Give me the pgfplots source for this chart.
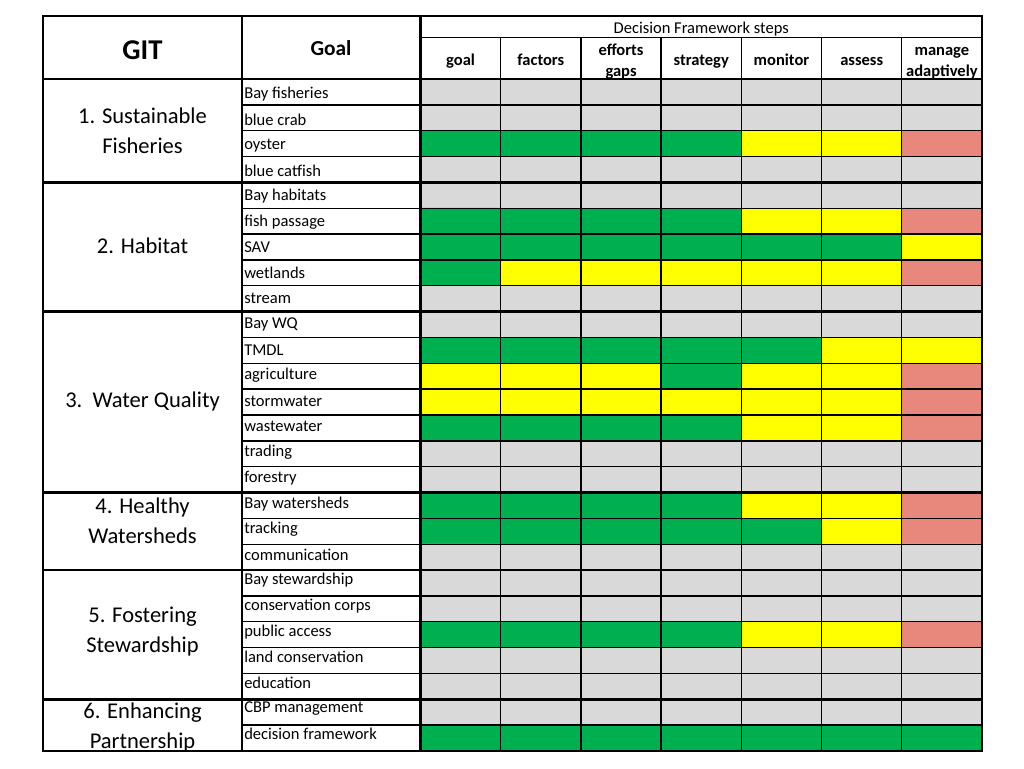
\documentclass[border=0pt]{standalone}
\usepackage{fontspec}
\setmainfont{Carlito}
\usepackage{pgfplots}
\pgfplotsset{compat=1.18}

% status codes: 0 = grey, 1 = green, 2 = yellow, 3 = red
\begin{document}
\begin{tikzpicture}
\begin{axis}[
  name=ax,
  scale only axis,
  width=421.1pt, height=504pt,
  xmin=0.5, xmax=7.5, ymin=-26.5, ymax=-0.5,
  axis line style={black, line width=1.9pt},
  tick style={draw=none},
  xtick={1,...,7},
  xticklabels={{\strut goal}, {\strut factors}, {\strut efforts\\\strut gaps}, {\strut strategy}, {\strut monitor}, {\strut assess}, {\strut manage\\\strut adaptively}},
  xticklabel pos=upper,
  xticklabel style={font=\bfseries\fontsize{12.4}{15.8}\selectfont, align=center, anchor=center, yshift=13pt},
  ytick={-1.080,-2.071,-3.061,-4.052,-5.042,-6.033,-7.023,-8.014,-9.004,-9.995,-10.985,-11.976,-12.966,-13.957,-14.947,-15.938,-16.928,-17.919,-18.909,-19.900,-20.890,-21.881,-22.871,-23.862,-24.852,-25.843},
  yticklabels={Bay fisheries, blue crab, oyster, blue catfish, Bay habitats, fish passage, SAV, wetlands, stream, Bay WQ, TMDL, agriculture, stormwater, wastewater, trading, forestry, Bay watersheds, tracking, communication, Bay stewardship, conservation corps, public access, land conservation, education, CBP management, decision framework},
  yticklabel style={font=\fontsize{12.4}{14}\selectfont, anchor=west, xshift=-133.9pt, inner xsep=1.5pt},
  minor xtick={1.5,2.5,...,6.5},
  minor ytick={-25.5,-24.5,...,-1.5},
  grid=minor,
  minor grid style={black, line width=1pt},
  axis on top,
  colormap={status}{rgb255=(217,217,217) rgb255=(0,176,80) rgb255=(255,255,0) rgb255=(232,135,124)},
  colormap access=direct,
  clip=false,
]
\addplot[matrix plot*, mesh/cols=7, point meta=explicit] coordinates {
(1,-1) [0] (2,-1) [0] (3,-1) [0] (4,-1) [0] (5,-1) [0] (6,-1) [0] (7,-1) [0]

(1,-2) [0] (2,-2) [0] (3,-2) [0] (4,-2) [0] (5,-2) [0] (6,-2) [0] (7,-2) [0]

(1,-3) [1] (2,-3) [1] (3,-3) [1] (4,-3) [1] (5,-3) [2] (6,-3) [2] (7,-3) [3]

(1,-4) [0] (2,-4) [0] (3,-4) [0] (4,-4) [0] (5,-4) [0] (6,-4) [0] (7,-4) [0]

(1,-5) [0] (2,-5) [0] (3,-5) [0] (4,-5) [0] (5,-5) [0] (6,-5) [0] (7,-5) [0]

(1,-6) [1] (2,-6) [1] (3,-6) [1] (4,-6) [1] (5,-6) [2] (6,-6) [2] (7,-6) [3]

(1,-7) [1] (2,-7) [1] (3,-7) [1] (4,-7) [1] (5,-7) [1] (6,-7) [1] (7,-7) [2]

(1,-8) [1] (2,-8) [2] (3,-8) [2] (4,-8) [2] (5,-8) [2] (6,-8) [2] (7,-8) [3]

(1,-9) [0] (2,-9) [0] (3,-9) [0] (4,-9) [0] (5,-9) [0] (6,-9) [0] (7,-9) [0]

(1,-10) [0] (2,-10) [0] (3,-10) [0] (4,-10) [0] (5,-10) [0] (6,-10) [0] (7,-10) [0]

(1,-11) [1] (2,-11) [1] (3,-11) [1] (4,-11) [1] (5,-11) [1] (6,-11) [2] (7,-11) [2]

(1,-12) [2] (2,-12) [2] (3,-12) [2] (4,-12) [1] (5,-12) [2] (6,-12) [2] (7,-12) [3]

(1,-13) [2] (2,-13) [2] (3,-13) [2] (4,-13) [2] (5,-13) [2] (6,-13) [2] (7,-13) [3]

(1,-14) [1] (2,-14) [1] (3,-14) [1] (4,-14) [1] (5,-14) [2] (6,-14) [2] (7,-14) [3]

(1,-15) [0] (2,-15) [0] (3,-15) [0] (4,-15) [0] (5,-15) [0] (6,-15) [0] (7,-15) [0]

(1,-16) [0] (2,-16) [0] (3,-16) [0] (4,-16) [0] (5,-16) [0] (6,-16) [0] (7,-16) [0]

(1,-17) [1] (2,-17) [1] (3,-17) [1] (4,-17) [1] (5,-17) [2] (6,-17) [2] (7,-17) [3]

(1,-18) [1] (2,-18) [1] (3,-18) [1] (4,-18) [1] (5,-18) [1] (6,-18) [2] (7,-18) [3]

(1,-19) [0] (2,-19) [0] (3,-19) [0] (4,-19) [0] (5,-19) [0] (6,-19) [0] (7,-19) [0]

(1,-20) [0] (2,-20) [0] (3,-20) [0] (4,-20) [0] (5,-20) [0] (6,-20) [0] (7,-20) [0]

(1,-21) [0] (2,-21) [0] (3,-21) [0] (4,-21) [0] (5,-21) [0] (6,-21) [0] (7,-21) [0]

(1,-22) [1] (2,-22) [1] (3,-22) [1] (4,-22) [1] (5,-22) [2] (6,-22) [2] (7,-22) [3]

(1,-23) [0] (2,-23) [0] (3,-23) [0] (4,-23) [0] (5,-23) [0] (6,-23) [0] (7,-23) [0]

(1,-24) [0] (2,-24) [0] (3,-24) [0] (4,-24) [0] (5,-24) [0] (6,-24) [0] (7,-24) [0]

(1,-25) [0] (2,-25) [0] (3,-25) [0] (4,-25) [0] (5,-25) [0] (6,-25) [0] (7,-25) [0]

(1,-26) [1] (2,-26) [1] (3,-26) [1] (4,-26) [1] (5,-26) [1] (6,-26) [1] (7,-26) [1]
};

% table frame
\draw[line width=1.9pt] (axis cs:-4.206,1.9375) rectangle (axis cs:7.5,-26.5);
\draw[line width=1.9pt] (axis cs:-1.725,1.9375) -- (axis cs:-1.725,-26.5);
\draw[line width=1.9pt] (axis cs:0.5,1.9375) -- (axis cs:0.5,-26.5);
\draw[line width=1.9pt] (axis cs:-4.206,-0.5) -- (axis cs:7.5,-0.5);
\draw[line width=1pt] (axis cs:0.5,1.1057) -- (axis cs:7.5,1.1057);
\pgfplotsinvokeforeach{1.5,2.5,...,6.5}{
  \draw[line width=1pt] (axis cs:#1,1.1057) -- (axis cs:#1,-0.5);
}
\pgfplotsinvokeforeach{-1.5,-2.5,...,-25.5}{
  \draw[line width=1pt] (axis cs:-1.725,#1) -- (axis cs:0.5,#1);
}
\pgfplotsinvokeforeach{-4.5,-9.5,-16.5,-19.5,-24.5}{
  \draw[line width=1.9pt] (axis cs:-4.206,#1) -- (axis cs:7.5,#1);
}

% headers
\node[font=\fontsize{12.4}{14}\selectfont] at (axis cs:4,1.414) {Decision Framework steps};
\node[font=\bfseries\fontsize{21.5}{25}\selectfont] at (axis cs:-2.966,0.6) {GIT};
\node[font=\bfseries\fontsize{16}{19}\selectfont] at (axis cs:-0.616,0.699) {Goal};

% GIT groups
\tikzset{git/.style={font=\fontsize{16.9}{22.5}\selectfont, align=center}}
\node[git] at (axis cs:-2.966,-2.51) {1. Sustainable\\Fisheries};
\node[git] at (axis cs:-2.966,-6.97) {2. Habitat};
\node[git] at (axis cs:-2.966,-12.98) {3.\ \ Water Quality};
\node[git] at (axis cs:-2.966,-17.61) {4. Healthy\\Watersheds};
\node[git] at (axis cs:-2.966,-21.88) {5. Fostering\\Stewardship};
\node[git] at (axis cs:-2.966,-25.6) {6. Enhancing\\Partnership};
\end{axis}
\path ([xshift=-315.4pt,yshift=-12.75pt]ax.south west) rectangle ([xshift=31.5pt,yshift=59.25pt]ax.north east);
\end{tikzpicture}
\end{document}
